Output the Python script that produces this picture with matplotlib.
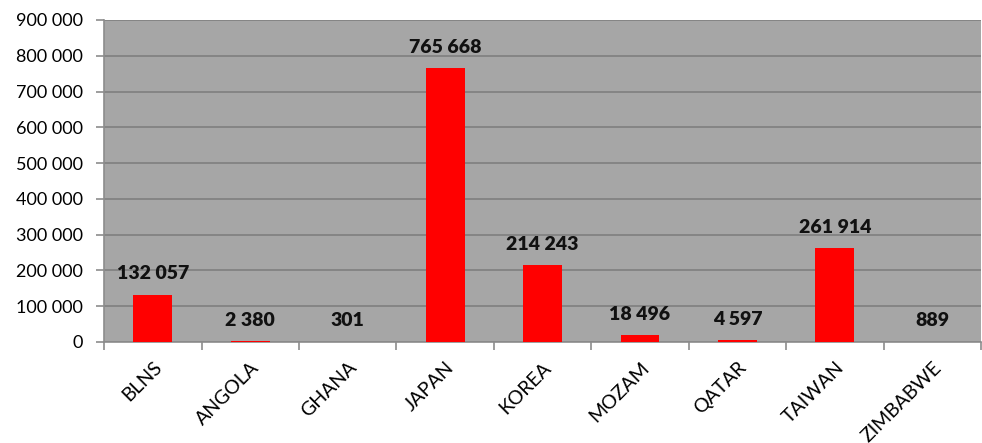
import numpy as np
import matplotlib.pyplot as plt
from matplotlib.ticker import FuncFormatter

countries = ['BLNS', 'ANGOLA', 'GHANA', 'JAPAN', 'KOREA', 'MOZAM', 'QATAR', 'TAIWAN', 'ZIMBABWE']
values = [132057, 2380, 301, 765668, 214243, 18496, 4597, 261914, 889]

plt.rcParams['font.family'] = ['Lato', 'DejaVu Sans']


def spaced(v):
    return f"{int(v):,}".replace(',', ' ')


fig = plt.figure(figsize=(9.82, 4.43), dpi=100)
ax = fig.add_axes([0.106, 0.228, 0.893, 0.727])
ax.set_facecolor('#a6a6a6')

x = np.arange(len(countries))
ax.bar(x, values, width=0.4, color='#ff0000', zorder=3)

for xi, v in zip(x, values):
    ax.annotate(spaced(v), (xi, v), xytext=(0, 9), textcoords='offset points',
                ha='center', va='bottom', fontsize=14, fontweight='heavy', color='#111111')

ax.set_xlim(-0.5, len(countries) - 0.5)
ax.set_ylim(0, 900000)
ax.set_yticks(np.arange(0, 900001, 100000))
ax.yaxis.set_major_formatter(FuncFormatter(lambda v, p: spaced(v)))
ax.grid(axis='y', color='#7f7f7f', linewidth=1.2, zorder=0)

# category labels in the middle, tick marks on the boundaries
ax.set_xticks(np.arange(-0.5, len(countries)), minor=False)
ax.set_xticklabels([])
ax.set_xticks(x, minor=True)
ax.set_xticklabels(countries, minor=True, rotation=45, ha='right', rotation_mode='anchor', fontsize=14)
ax.tick_params(axis='x', which='minor', length=0, pad=12)
ax.tick_params(axis='x', which='major', length=6, color='#8c8c8c', width=1.2)
ax.tick_params(axis='y', length=6, color='#8c8c8c', width=1.2, labelsize=13, pad=9)

for side in ['top', 'right']:
    ax.spines[side].set_visible(False)
for side in ['left', 'bottom']:
    ax.spines[side].set_color('#8c8c8c')
    ax.spines[side].set_linewidth(1.2)

fig.savefig('out.png', dpi=100)
